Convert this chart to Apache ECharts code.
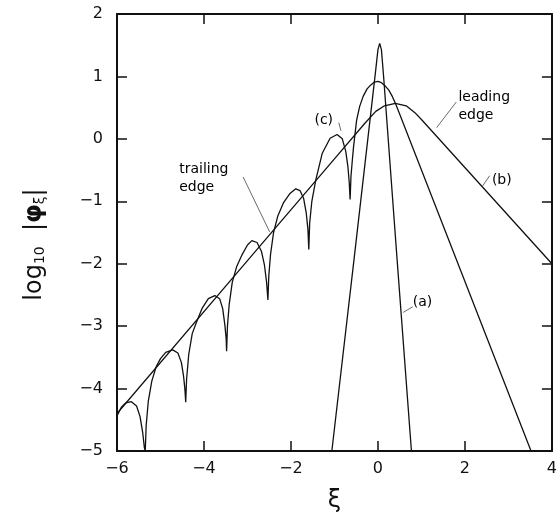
<!DOCTYPE html>
<html lang="en">
<head>
    <meta charset="UTF-8">
    <title>log10 phi xi</title>
    <script src="https://cdn.jsdelivr.net/npm/echarts@6/dist/echarts.min.js"></script>
</head>
<style>
    * {
        margin: 0px;
        padding: 0px;
    }
    html , body {
        width: 100%;
        height: 100%;
        overflow: hidden;
        background: #fff;
    }
    .container{
        width: 560px;
        height: 518px;
    }
</style>
<body>
    <div class="container"></div>
</body>
<script>
    // curve (a): narrow peak
    let curveA=[[-1.06,-5],[-0.55,-1.93],[-0.06,1.05],[0.0,1.43],[0.04,1.53],[0.08,1.43],[0.13,1.0],[0.44,-1.93],[0.77,-5]];
    // curve (b): trailing edge / leading edge
    let curveB=[[-6,-4.40],[-3,-1.95],[-1,-0.32],[-0.3,0.25],[-0.05,0.44],[0.15,0.53],[0.4,0.57],[0.65,0.53],[0.85,0.42],[1.0,0.31],[4,-2.0]];
    // curve (c): oscillating
    let curveC=[
        [-6,-4.44],[-5.9,-4.30],[-5.8,-4.23],[-5.67,-4.21],[-5.55,-4.28],[-5.47,-4.45],[-5.41,-4.70],[-5.37,-4.95],[-5.35,-5.0],
        [-5.33,-4.6],[-5.28,-4.2],[-5.2,-3.88],[-5.1,-3.65],[-5.0,-3.52],[-4.88,-3.42],[-4.72,-3.38],[-4.6,-3.43],[-4.52,-3.58],[-4.47,-3.80],[-4.44,-4.0],[-4.42,-4.22],
        [-4.40,-3.85],[-4.35,-3.45],[-4.27,-3.12],[-4.18,-2.95],[-4.04,-2.71],[-3.9,-2.56],[-3.75,-2.51],[-3.64,-2.56],[-3.57,-2.72],[-3.52,-2.98],[-3.49,-3.2],[-3.48,-3.40],
        [-3.46,-3.0],[-3.42,-2.65],[-3.35,-2.30],[-3.25,-2.05],[-3.12,-1.85],[-3.0,-1.70],[-2.90,-1.63],[-2.78,-1.66],[-2.68,-1.80],[-2.61,-2.02],[-2.56,-2.30],[-2.53,-2.58],
        [-2.51,-2.2],[-2.47,-1.85],[-2.40,-1.50],[-2.30,-1.23],[-2.17,-1.02],[-2.03,-0.88],[-1.89,-0.80],[-1.79,-0.83],[-1.71,-0.95],[-1.65,-1.18],[-1.61,-1.45],[-1.59,-1.77],
        [-1.57,-1.35],[-1.52,-1.0],[-1.43,-0.66],[-1.28,-0.23],[-1.10,0.01],[-0.94,0.07],[-0.82,0.0],[-0.74,-0.2],[-0.69,-0.45],[-0.66,-0.7],[-0.64,-0.97],
        [-0.62,-0.6],[-0.59,-0.35],[-0.56,-0.12],[-0.49,0.30],[-0.42,0.52],[-0.34,0.68],[-0.25,0.80],[-0.17,0.86],[-0.08,0.91],[0.0,0.92],[0.08,0.90],[0.15,0.86],[0.25,0.78],[0.33,0.68],[0.42,0.54],[3.52,-5.0]
    ];
    // annotations: [x, y, text]
    let notes=[[-4.57,-0.64,'trailing\nedge'],[1.85,0.52,'leading\nedge'],[-1.46,0.30,'(c)'],[2.62,-0.66,'(b)'],[0.80,-2.62,'(a)']];
    let leaders=[
        [[-3.10,-0.61],[-2.49,-1.49]],
        [[1.80,0.59],[1.35,0.18]],
        [[-0.90,0.26],[-0.85,0.13]],
        [[2.39,-0.77],[2.57,-0.59]],
        [[0.58,-2.78],[0.80,-2.69]]
    ];
    let xTicks={min:-6,max:4,interval:2};
    let yTicks={min:-5,max:2,interval:1};

    let container=document.querySelector(".container");
    let mycharts=echarts.init(container);
    let font='DejaVu Sans';
    let minus=v=>v<0?'\u2212'+(-v):String(v);

    let lineSeries=(data,w)=>({
        type:'line',
        data:data,
        symbol:'none',
        clip:true,
        lineStyle:{color:'#111',width:w},
        silent:true
    });

    let series=[lineSeries(curveA,1.3),lineSeries(curveB,1.3),lineSeries(curveC,1.3)];
    leaders.forEach(l=>{
        let s=lineSeries(l,0.8);
        s.lineStyle.color='#444';
        series.push(s);
    });
    series.push({
        type:'scatter',
        data:notes,
        symbolSize:0,
        silent:true,
        itemStyle:{opacity:1},
        label:{
            show:true,
            position:'right',
            distance:0,
            formatter:p=>p.data[2],
            color:'#000',
            opacity:1,
            fontFamily:font,
            fontSize:14,
            lineHeight:18,
            align:'left'
        }
    });

    let axisBase={
        axisLine:{show:true,onZero:false,lineStyle:{color:'#111',width:2}},
        axisTick:{show:true,inside:true,length:10,lineStyle:{color:'#111',width:1.5}},
        splitLine:{show:false}
    };

    let option={
        animation:false,
        backgroundColor:'#fff',
        grid:{left:117,right:2,top:14,bottom:66,containLabel:false},
        xAxis:[
            Object.assign({type:'value',position:'bottom',
                name:'ξ',nameLocation:'middle',nameGap:38,
                nameTextStyle:{fontFamily:font,fontSize:24,color:'#111'},
                axisLabel:{formatter:minus,fontFamily:font,fontSize:16,color:'#111',margin:10}
            },xTicks,axisBase),
            Object.assign({type:'value',position:'top',axisLabel:{show:false}},xTicks,axisBase)
        ],
        yAxis:[
            Object.assign({type:'value',position:'left',
                name:'{a|log}{s|10}{a|  |}{b|φ}{s|ξ}{a||}',
                nameLocation:'middle',nameGap:70,nameRotate:90,
                nameTextStyle:{
                    color:'#111',
                    padding:[0,24,0,0],
                    rich:{
                        a:{fontFamily:font,fontSize:24,color:'#111'},
                        b:{fontFamily:font,fontSize:24,fontWeight:'bold',color:'#111'},
                        s:{fontFamily:font,fontSize:14,color:'#111',padding:[10,0,0,0]}
                    }
                },
                axisLabel:{formatter:minus,fontFamily:font,fontSize:16,color:'#111',margin:14}
            },yTicks,axisBase),
            Object.assign({type:'value',position:'right',axisLabel:{show:false}},yTicks,axisBase)
        ],
        series
    };
    mycharts.setOption(option);
</script>
</html>
